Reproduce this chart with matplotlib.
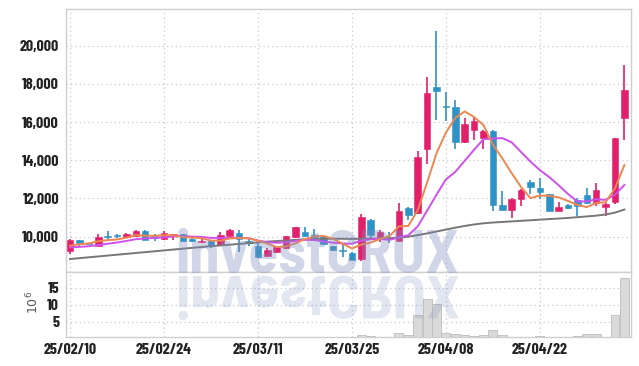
import numpy as np
import pandas as pd
import matplotlib
matplotlib.use("Agg")
import matplotlib.pyplot as plt
from matplotlib.textpath import TextPath
from matplotlib.patches import PathPatch
from matplotlib.font_manager import FontProperties
import matplotlib.font_manager as fm
import matplotlib.transforms as mtransforms

# ---------------- data ----------------
tick_labels = ["25/02/10", "25/02/24", "25/03/11", "25/03/25", "25/04/08", "25/04/22"]
tick_index = [0, 10, 20, 30, 40, 50]
price_ticks = [10000, 12000, 14000, 16000, 18000, 20000]
volume_ticks = [5, 10, 15]
watermark = "investCRUX"

opens = [9270, 9800, 9640, 9530, 10010, 10100, 9970, 10020, 10310, 10030,
         9880, 10080, 10120, 9880, 9740, 9750, 9580, 10050, 10190, 9790,
         9530, 8970, 9180, 9390, 9960, 10230, 10080, 10020, 9490, 9290,
         9170, 8830, 10890, 10000, 10000, 9790, 11480, 11230, 14610, 17830,
         16830, 16790, 14980, 15570, 15180, 15530, 11670, 11410, 11970, 12840,
         12560, 12250, 11360, 11670, 11920, 12190, 11740, 11530, 11840, 16190]
highs = [9880, 9820, 9670, 10120, 10310, 10150, 10170, 10360, 10330, 10120,
         10300, 10150, 10150, 9960, 9910, 9760, 10230, 10380, 10360, 9880,
         9700, 9400, 9480, 10060, 10500, 10520, 10400, 10040, 9520, 9620,
         9190, 11180, 10900, 10330, 10260, 11760, 11560, 14490, 18350, 20790,
         17570, 17130, 16230, 16260, 15600, 15580, 12400, 12000, 12470, 12980,
         13050, 12260, 11790, 11720, 12050, 12540, 12800, 11750, 15180, 18970]
lows = [9110, 9490, 9590, 9500, 9830, 9950, 9960, 9990, 9800, 9780,
        9800, 9800, 9780, 9740, 9650, 9430, 9560, 9900, 9220, 9500,
        8870, 8940, 9170, 9380, 9950, 9970, 9880, 9570, 9260, 8960,
        8770, 8710, 9950, 9700, 9650, 9780, 10890, 11200, 13800, 16110,
        16060, 14580, 14890, 15050, 14580, 11320, 11370, 10960, 11620, 12260,
        11970, 11330, 11340, 11450, 11100, 11730, 11620, 11100, 11700, 15060]
closes = [9840, 9670, 9610, 10000, 9970, 10020, 10140, 10310, 9830, 9920,
          10190, 10120, 9790, 9760, 9770, 9530, 10100, 10370, 9880, 9670,
          8960, 9320, 9440, 10050, 10490, 10060, 10000, 9590, 9280, 9260,
          8790, 11010, 10100, 10270, 9960, 11360, 11120, 14190, 17530, 17620,
          16780, 14980, 15880, 16060, 15530, 11650, 11410, 11970, 12450, 12610,
          12320, 11340, 11570, 11490, 11600, 11740, 12450, 11710, 15170, 17670]
# closes of the sessions just before the visible window (for the moving averages)
prior_closes = [9400, 9300, 9350, 9300, 9400, 9300, 9400, 9430, 9680]
# long moving average (60-day)
ma60 = [8830, 8875, 8920, 8965, 9010, 9055, 9100, 9145, 9190, 9235,
        9280, 9325, 9370, 9415, 9460, 9500, 9540, 9580, 9620, 9660,
        9700, 9740, 9770, 9800, 9830, 9860, 9880, 9890, 9890, 9890,
        9880, 9890, 9900, 9910, 9920, 9950, 10000, 10080, 10170, 10270,
        10370, 10470, 10560, 10640, 10700, 10740, 10770, 10800, 10830, 10860,
        10890, 10920, 10950, 10980, 11020, 11060, 11100, 11160, 11260, 11420]
# volume in millions of shares
volume = [0.3, 0.2, 0.1, 0.3, 0.2, 0.15, 0.15, 0.2, 0.3, 0.15,
          0.2, 0.15, 0.2, 0.15, 0.1, 0.2, 0.3, 0.25, 0.3, 0.15,
          0.4, 0.2, 0.15, 0.3, 0.3, 0.2, 0.15, 0.2, 0.15, 0.15,
          0.2, 0.9, 0.8, 0.5, 0.3, 1.6, 1.0, 7.0, 11.7, 10.1,
          1.6, 1.3, 1.0, 0.7, 0.9, 2.5, 1.0, 0.5, 0.5, 0.5,
          0.8, 0.5, 0.4, 0.5, 0.7, 1.2, 1.4, 0.5, 7.0, 17.8]

# ---------------- fonts ----------------
names = {f.name for f in fm.fontManager.ttflist}
def pick(cands):
    for cnd in cands:
        if cnd in names:
            return cnd
    return "DejaVu Sans"
lab_family = pick(["Barlow Condensed", "Roboto Condensed", "Archivo Narrow", "DejaVu Sans"])
lab_fp = FontProperties(family=[lab_family, "DejaVu Sans"], weight="bold",
                        stretch="condensed", size=11.5)
wm_family = pick(["Barlow Semi Condensed", "Roboto Condensed", "DejaVu Sans"])
wm_fp = FontProperties(family=[wm_family, "DejaVu Sans"], weight="bold", stretch="semi-condensed")

# ---------------- style ----------------
RED = "#e21f6b"
BLUE = "#2d92c6"
ORANGE = "#ee8650"
PURPLE = "#cf50ef"
GRAY = "#777777"
GRID = "#c3c9dc"
SPINE = "#cfcfcf"
TXT = "#222222"

W, H = 639, 366
fig = plt.figure(figsize=(W / 100, H / 100), dpi=100)
L, R = 66 / W, 630.5 / W
ax = fig.add_axes([L, 1 - 272 / H, R - L, (272 - 9) / H])
axv = fig.add_axes([L, 1 - 337.3 / H, R - L, (337.3 - 272) / H], sharex=ax)

n = len(closes)
x = np.arange(n)
o = np.array(opens); c = np.array(closes); hi = np.array(highs); lo = np.array(lows)
up = c >= o
cols = np.where(up, RED, BLUE)

# moving averages
allc = pd.Series(prior_closes + closes)
k = len(prior_closes)
ma5 = allc.rolling(5).mean().values[k:]
ma10 = allc.rolling(10).mean().values[k:]

ax.vlines(x, lo, hi, colors=cols, linewidth=1.2, zorder=3)
body_b = np.minimum(o, c)
body_h = np.maximum(np.abs(c - o), 40)
ax.bar(x, body_h, bottom=body_b, width=0.7, color=cols, edgecolor=cols,
       linewidth=0.4, zorder=4)

ax.plot(x, ma60, color=GRAY, lw=1.4, zorder=5)
ax.plot(x, ma10, color=PURPLE, lw=1.4, zorder=5)
ax.plot(x, ma5, color=ORANGE, lw=1.4, zorder=6)

ax.set_xlim(-0.43, 59.65)
ax.set_ylim(8150, 21920)
ax.set_yticks(price_ticks)
ax.set_yticklabels([f"{v:,}" for v in price_ticks])
ax.set_xticks(tick_index)
ax.tick_params(axis="x", labelbottom=False, length=0)
ax.tick_params(axis="y", length=0, pad=5, labelcolor=TXT)
for t in ax.get_yticklabels():
    t.set_fontproperties(lab_fp)
ax.grid(True, linestyle=(0, (1, 2.5)), color=GRID, linewidth=0.9)
ax.set_axisbelow(True)

axv.bar(x, volume, width=0.95, color="#dadada", edgecolor="#bdbdbd", linewidth=0.6, zorder=3)
axv.set_ylim(0.35, 19.7)
axv.set_yticks(volume_ticks)
axv.set_yticklabels([str(v) for v in volume_ticks])
axv.set_xticks(tick_index)
axv.set_xticklabels(tick_labels)
axv.tick_params(axis="both", length=0, labelcolor=TXT)
axv.tick_params(axis="y", pad=5)
axv.tick_params(axis="x", pad=4)
for t in axv.get_xticklabels() + axv.get_yticklabels():
    t.set_fontproperties(lab_fp)
axv.grid(True, linestyle=(0, (1, 2.5)), color=GRID, linewidth=0.9)
axv.set_axisbelow(True)

for a in (ax, axv):
    for s in a.spines.values():
        s.set_color(SPINE)
        s.set_linewidth(1.0)

fig.text(33 / W, 1 - 302 / H, r"$10^6$", rotation=90, ha="center", va="center",
         fontsize=9, color="#555555", family="DejaVu Sans")

# watermark (real text) with a mirrored reflection below it
x0, x1 = 176, 460
base = H - 273
wm_col = "#7f8fbf"
probe = fig.text(0, 0, watermark, fontproperties=wm_fp, fontsize=40)
rend = fig.canvas.get_renderer()
wpx = probe.get_window_extent(renderer=rend).width
probe.remove()
fs = 40 * (x1 - x0) / wpx
wm_fp.set_size(fs)
fig.text(x0 / W, base / H, watermark, fontproperties=wm_fp, color=wm_col,
         alpha=0.36, ha="left", va="baseline", zorder=10)
tp = TextPath((0, 0), watermark, size=fs * 100 / 72, prop=wm_fp)
tr_ref = mtransforms.Affine2D().scale(1 / W, -1 / H).translate(x0 / W, (base - 3) / H) + fig.transFigure
fig.add_artist(PathPatch(tp, transform=tr_ref, facecolor=wm_col, edgecolor="none", alpha=0.22, zorder=10))

fig.savefig("out.png", dpi=100)
